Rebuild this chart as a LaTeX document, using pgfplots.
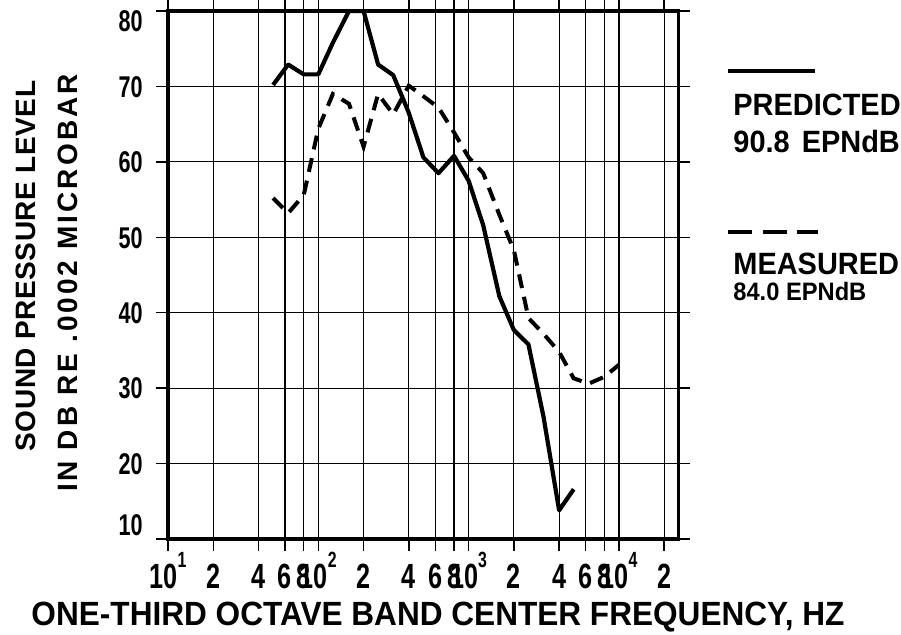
\documentclass[border=0pt]{standalone}
\usepackage{pgfplots}
\pgfplotsset{compat=1.18}
\usepackage{fontspec}
\setmainfont{Liberation Sans}[FakeStretch=0.94]
\newfontfamily\tickfont{Liberation Sans}[FakeStretch=0.72]
\newfontfamily\ylabA{Liberation Sans}[LetterSpace=2]
\newfontfamily\ylabB{Liberation Sans}[LetterSpace=11]
\newcommand\sups[1]{\raisebox{10.5pt}{\fontsize{11}{11}\selectfont #1}}

\pgfplotstableread{
f   spl
50   70.2
63   72.9
80   71.6
100  71.6
125  75.8
160  80
200  80
250  72.9
315  71.5
400  66.5
500  60.6
630  58.5
800  60.8
1000 57.5
1250 51.6
1600 42.2
2000 37.7
2500 35.8
3150 26.2
4000 13.8
5000 16.6
}\predicted

\pgfplotstableread{
f   spl
50   55.2
63   53.2
80   55.6
100  64.4
125  69.0
160  67.7
200  62.0
250  69.0
315  66.3
400  70.1
500  68.7
630  67.2
800  63.9
1000 60.6
1250 58.5
1600 53.0
2000 48.3
2500 39.3
3150 37.2
4000 34.8
5000 31.3
6300 30.6
8000 31.5
10000 33.1
}\measured

\begin{document}
\begin{tikzpicture}[x=0.5pt,y=0.5pt]
\path[use as bounding box] (0,0) rectangle (901,634);
\begin{axis}[
  at={(84pt,47.5pt)}, anchor=south west,
  scale only axis, width=255.25pt, height=264pt,
  xmode=log, xmin=10, xmax=24900, ymin=10, ymax=80,
  xtick={10,20,40,60,80,100,200,400,600,800,1000,2000,4000,6000,8000,10000,20000},
  xticklabels={10\sups{1},2,4,6,8,10\sups{2},2,4,6,8,10\sups{3},2,4,6,8,10\sups{4},2},
  minor xtick={},
  ytick={10,20,...,80},
  yticklabels={\raisebox{7pt}{10},20,30,40,50,60,70,\raisebox{-4.75pt}{80}},
  grid=major,
  major grid style={black, line width=0.6pt},
  axis line style={black, line width=1.6pt},
  tick style={black, line width=0.7pt},
  tick align=outside, major tick length=6pt,
  xticklabel style={font=\tickfont\bfseries\fontsize{17.5}{18}\selectfont, anchor=base, inner sep=0pt, yshift=-18.5pt},
  yticklabel style={font=\tickfont\bfseries\fontsize{15}{16}\selectfont, anchor=base east, inner sep=0pt, xshift=-6.5pt, yshift=-5.37pt},
  clip=true,
]
\addplot[black, line width=2.1pt, line join=round] table[x=f, y=spl] {\predicted};
\addplot[black, line width=2pt, dash pattern=on 7pt off 4.5pt] table[x=f, y=spl] {\measured};
\end{axis}
% y label
\node[rotate=90, inner sep=0pt] at (26,368) {\ylabA\bfseries\fontsize{14}{16}\selectfont SOUND PRESSURE LEVEL};
\node[rotate=90, inner sep=0pt] at (68,351) {\ylabB\bfseries\fontsize{14}{16}\selectfont IN DB RE .0002 MICROBAR};
% x label
\node[anchor=base, inner sep=0pt] at (438,9) {\bfseries\fontsize{16.8}{18}\selectfont ONE-THIRD OCTAVE BAND CENTER FREQUENCY, HZ};
% legend
\draw[black, line width=1.6pt] (728,563) -- (815,563);
\node[anchor=base west, inner sep=0pt] at (733,519) {\bfseries\fontsize{15.4}{17}\selectfont PREDICTED};
\node[anchor=base west, inner sep=0pt] at (733,482) {\bfseries\fontsize{15.4}{17}\selectfont 90.8\hspace{2pt} EPNdB};
\draw[black, line width=1.6pt] (728,402) -- (752,402) (763,402) -- (787,402) (797,402) -- (818,402);
\node[anchor=base west, inner sep=0pt] at (733,360) {\bfseries\fontsize{15.4}{17}\selectfont MEASURED};
\node[anchor=base west, inner sep=0pt] at (733,334) {\bfseries\fontsize{12.6}{14}\selectfont 84.0 EPNdB};
\end{tikzpicture}
\end{document}
